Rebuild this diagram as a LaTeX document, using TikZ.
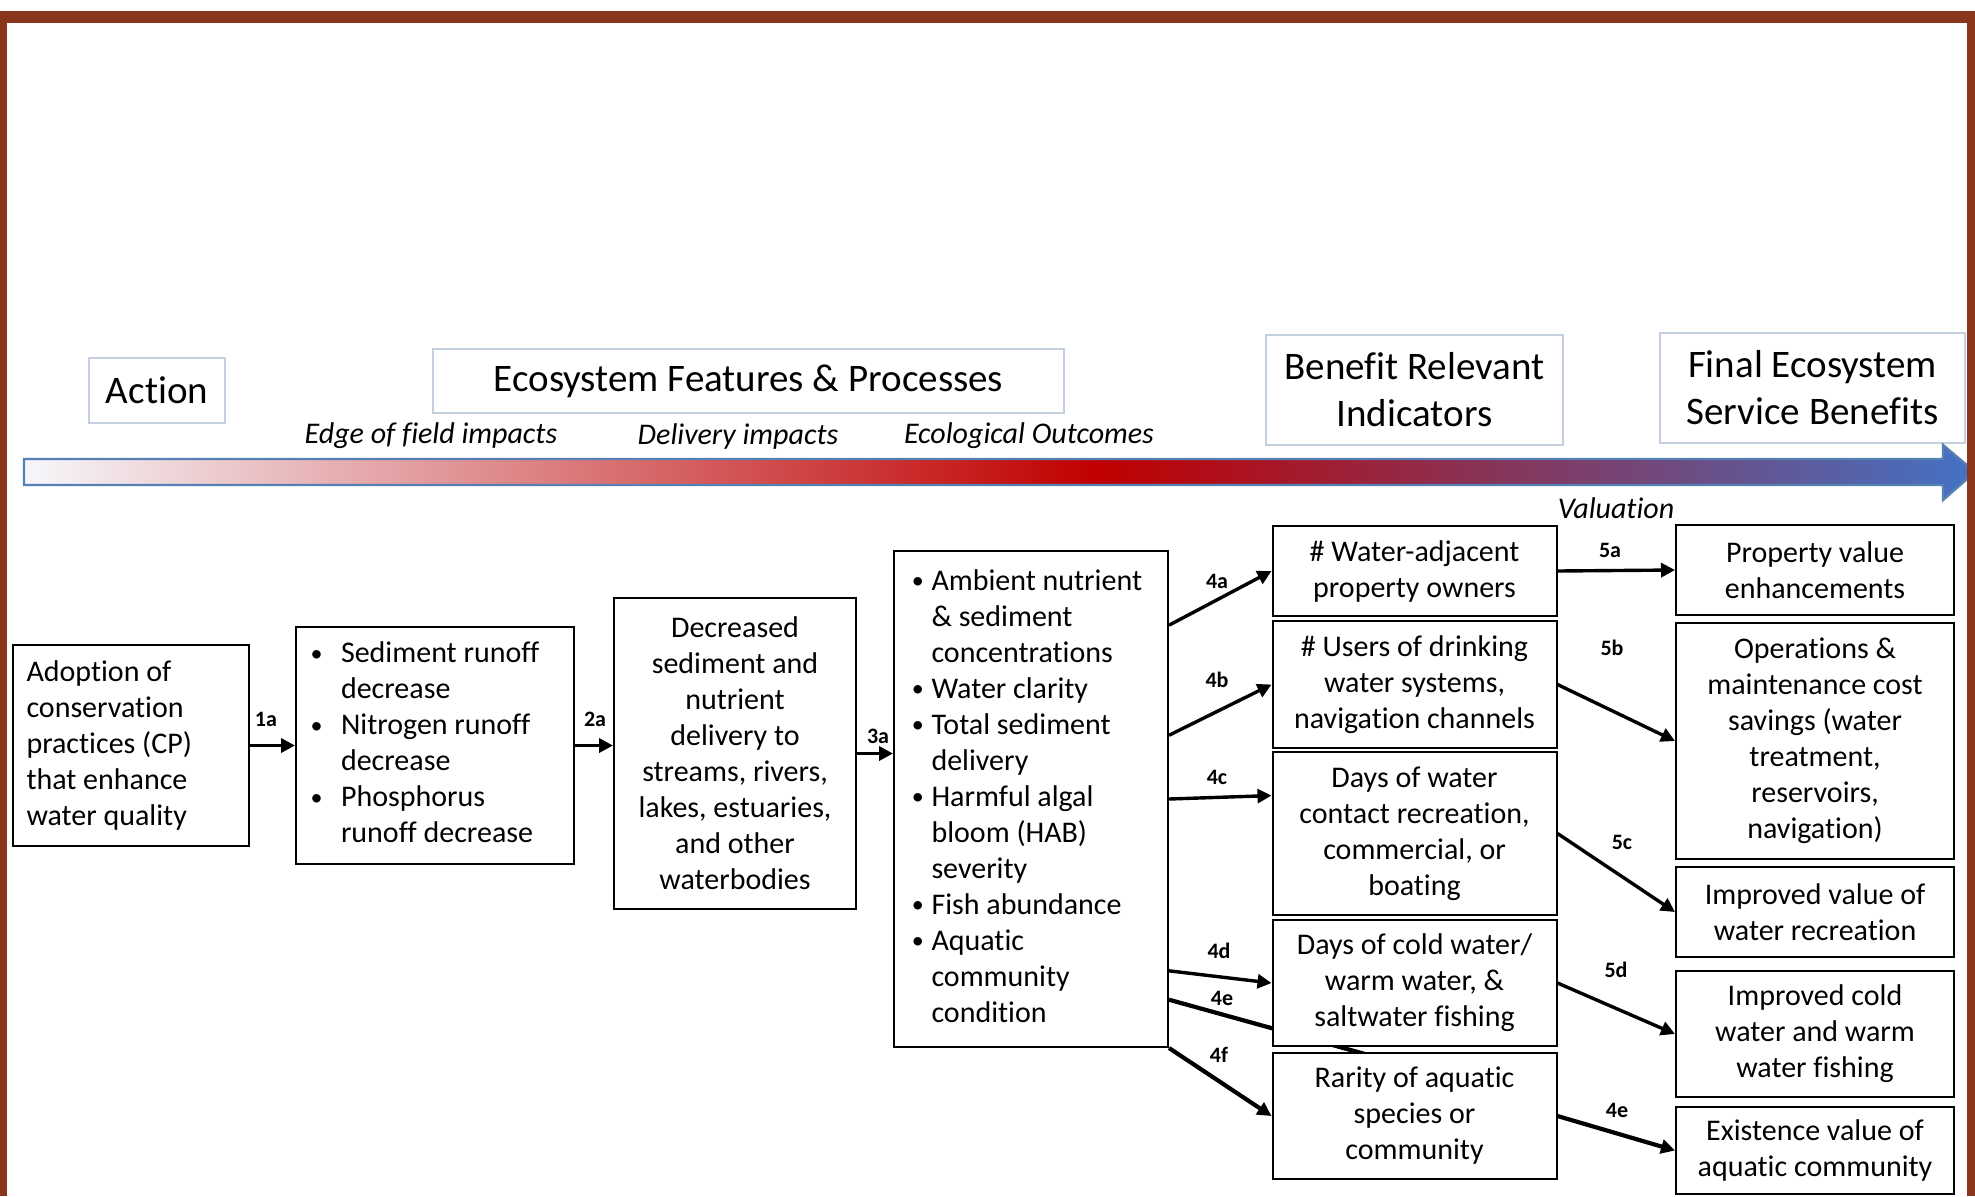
\documentclass[tikz,border=0pt]{standalone}
\usepackage{fontspec}
\setmainfont{Carlito}[Ligatures=CommonOff]
\usepackage{xcolor}
\usetikzlibrary{positioning,calc,arrows.meta,backgrounds}

\definecolor{frame}{RGB}{137,54,29}
\definecolor{hdrline}{RGB}{196,208,224}
\definecolor{flowline}{RGB}{84,128,180}
\definecolor{flowA}{RGB}{246,247,251}
\definecolor{flowR}{RGB}{192,0,0}
\definecolor{flowB}{RGB}{68,114,196}
\pgfdeclarehorizontalshading{flowshade}{100bp}{color(0bp)=(flowA); color(25bp)=(flowA); color(52.5bp)=(flowR); color(75bp)=(flowB); color(100bp)=(flowB)}

\newcommand{\bul}[1][15.2pt]{\makebox[#1][l]{\raisebox{0.8pt}{\fontsize{12}{12}\selectfont\textbullet}}}

\begin{document}
\begin{tikzpicture}[
						x=0.5pt, y=-0.5pt,
						box/.style={
							draw=black, line width=1pt,   % plain black frame
							fill=white,
							font=\fontsize{15}{18}\selectfont,
							align=center, inner sep=0pt
						},
						hdr/.style={              % column headings
							draw=hdrline, line width=1.2pt,
							fill=white,
							font=\fontsize{19.5}{23.5}\selectfont,
							align=center, inner sep=0pt
						},
						stage/.style={font=\fontsize{15}{18}\selectfont\itshape, inner sep=0pt},
						lbl/.style={font=\fontsize{11}{13}\selectfont\bfseries, inner sep=0pt},
						conn/.style={-{Triangle[length=7pt,width=7pt]}, line width=1.7pt},
						heavy/.style={conn, line width=2.1pt}
						]
						\useasboundingbox (0,0) rectangle (1975,1196);
						
						% --- HEADINGS ---
						\node[hdr, minimum width=68pt, minimum height=32.5pt] (h-act) at (157,390.5) {Action};
						\node[hdr, minimum width=315.5pt, minimum height=32pt] (h-eco) at (748.5,381) {Ecosystem Features \& Processes};
						\node[hdr, minimum width=148.5pt, minimum height=55pt] (h-bri) at (1414.5,390) {Benefit Relevant\\Indicators};
						\node[hdr, minimum width=152.5pt, minimum height=55pt] (h-fes) at (1812.5,388) {Final Ecosystem\\Service Benefits};
						
						\node[stage] (s-edge) at (431,436) {Edge of field impacts};
						\node[stage] (s-deliv) at (738,436) {Delivery impacts};
						\node[stage] (s-eco) at (1029,436) {Ecological Outcomes};
						\node[stage] (s-val) at (1616,508) {Valuation};
						
						% --- TIMELINE ARROW ---
						\shadedraw[shading=flowshade, draw=flowline, line width=1.2pt]
						(24,459) -- (1943,459) -- (1943,445) -- (1975,472) -- (1943,500) -- (1943,485) -- (24,485) -- cycle;
						
						% --- ACTION AND ECOSYSTEM BOXES ---
						\node[box, text width=104pt, align=flush left, inner xsep=7pt, minimum height=100.5pt] (adopt) at (130.5,745.5)
						{Adoption of\\conservation\\practices (CP)\\that enhance\\water quality};
						\node[box, minimum width=139pt, minimum height=118.5pt] (runoff) at (435,745.5)
						{\begin{tabular}{@{}l@{}l@{\hspace{10pt}}}
								\bul & Sediment runoff\\ & decrease\\
								\bul & Nitrogen runoff\\ & decrease\\
								\bul & Phosphorus\\ & runoff decrease
						\end{tabular}};
						\node[box, minimum width=121pt, minimum height=155.5pt] (deliv) at (735,753.5)
						{Decreased\\sediment and\\nutrient\\delivery to\\streams, rivers,\\lakes, estuaries,\\and other\\waterbodies};
						\node[box, minimum width=137pt, minimum height=248pt] (eco) at (1031,799)
						{\begin{tabular}{@{}l@{}l@{\hspace{4pt}}}
								\bul[9.8pt] & Ambient nutrient\\ & \& sediment\\ & concentrations\\
								\bul[9.8pt] & Water clarity\\
								\bul[9.8pt] & Total sediment\\ & delivery\\
								\bul[9.8pt] & Harmful algal\\ & bloom (HAB)\\ & severity\\
								\bul[9.8pt] & Fish abundance\\
								\bul[9.8pt] & Aquatic\\ & community\\ & condition
						\end{tabular}};
						
						% --- BENEFIT RELEVANT INDICATORS ---
						\foreach \txt/\y/\h [count=\i] in {
							{\# Water-adjacent\\property owners}/571/45,
							{\# Users of drinking\\water systems,\\navigation channels}/684.5/63.5,
							{Days of water\\contact recreation,\\commercial, or\\boating}/833.5/81.5,
							{Days of cold water/\\warm water, \&\\saltwater fishing}/983/63,
							{Rarity of aquatic\\species or\\community}/1116/63} {
							\node[box, minimum width=142pt, minimum height=\h pt] (bri-\i) at (1414.5,\y) {\txt};
						}
						
						% --- FINAL ECOSYSTEM SERVICE BENEFITS ---
						\foreach \txt/\y/\h [count=\i] in {
							{Property value\\enhancements}/570/45,
							{Operations \&\\maintenance cost\\savings (water\\treatment,\\reservoirs,\\navigation)}/741/118,
							{Improved value of\\water recreation}/912/45,
							{Improved cold\\water and warm\\water fishing}/1034/63,
							{Existence value of\\aquatic community}/1150.5/43.5} {
							\node[box, minimum width=139pt, minimum height=\h pt] (fes-\i) at (1815,\y) {\txt};
						}
						
						% --- LINKS ---
						\draw[conn] (adopt.east) -- (runoff.west);
						\draw[conn] (runoff.east) -- (runoff.east -| deliv.west);
						\draw[conn] (deliv.east) -- (deliv.east -| eco.west);
						
						% start points on the right side of the ecological box
						\foreach \n/\f in {a/0.151, b/0.372, c/0.5, d/0.845, e/0.903} {
							\coordinate (o-\n) at ($(eco.north east)!\f!(eco.south east)$);
						}
						\draw[conn] (o-a) -- (bri-1.west);
						\draw[conn] (o-b) -- (bri-2.west);
						\draw[conn] (o-c) -- ($(bri-3.north west)!0.27!(bri-3.south west)$);
						\draw[conn] (o-d) -- (bri-4.west);
						\begin{scope}[on background layer]
							% runs behind the fishing box
							\draw[heavy, -] (o-e) -- ($(bri-5.north west)+(126,11)$);
						\end{scope}
						\draw[heavy] (eco.south east) -- (bri-5.west);
						
						\foreach \i in {1,...,4} {
							\draw[conn] (bri-\i.east) -- (fes-\i.west);
						}
						\draw[heavy] (bri-5.east) -- (fes-5.west);
						
						% --- LINK LABELS ---
						\foreach \txt/\x/\y in {1a/266/719, 2a/595/719, 3a/878/736, 4a/1217/581, 4b/1217/680, 4c/1217/777,
							4d/1219/951, 4e/1222/998, 4f/1219/1055, 5a/1610/550, 5b/1612/648, 5c/1622/842, 5d/1616/970} {
							\node[lbl] (l-\txt) at (\x,\y) {\txt};
						}
						\node[lbl] (l-4e-2) at (1617,1110) {4e};
						
						% --- FRAME ---
						\fill[frame] (0,11) rectangle (1975,23);
						\fill[frame] (0,11) rectangle (7,1196);
						\fill[frame] (1967,11) rectangle (1975,1196);
						
					\end{tikzpicture}
\end{document}
